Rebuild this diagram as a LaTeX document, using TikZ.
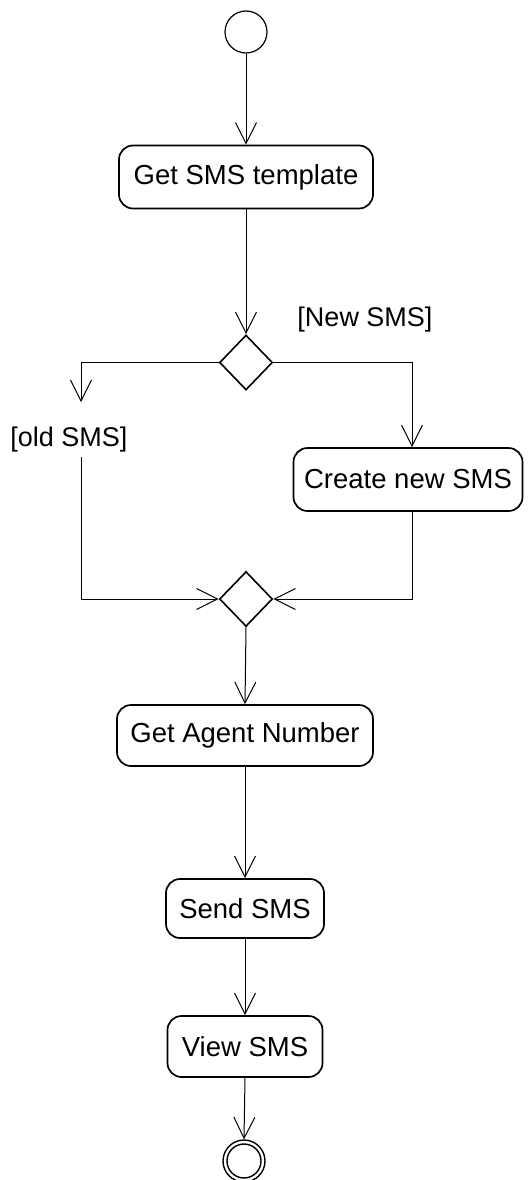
\documentclass[tikz,border=0pt]{standalone}
\usepackage{fontspec}
\setmainfont{Liberation Sans}
\usetikzlibrary{arrows.meta,shapes.geometric}
\tikzset{
  act/.style={draw, line width=1.7pt, rounded corners=14pt, inner sep=0pt,
    font=\fontsize{27.5}{32}\selectfont},
  decision/.style={draw, diamond, line width=1.6pt, inner sep=0pt,
    minimum width=53pt, minimum height=55pt},
  guard/.style={inner sep=0pt, font=\fontsize{27}{32}\selectfont},
  flow/.style={line width=1pt, -{Straight Barb[length=21pt,width=21pt,line width=1pt]}},
  state/.style={draw, circle, line width=1.2pt, inner sep=0pt},
}
\begin{document}
\begin{tikzpicture}[x=1pt, y=-1pt]
  \useasboundingbox (0,0) rectangle (530,1180);

  % initial and final states
  \node[state, minimum size=42pt] (start) at (246,32) {};
  \node[state, line width=1.4pt, minimum size=42pt] (end) at (244,1161) {};
  \node[state, line width=1.4pt, minimum size=34pt] (endin) at (244,1161) {};

  % activities
  \node[act, minimum width=254pt, minimum height=63pt] (tmpl) at (246,177) {Get SMS template};
  \node[act, minimum width=229pt, minimum height=63pt] (create) at (408,479.5) {Create new SMS};
  \node[act, minimum width=256pt, minimum height=61pt] (agent) at (245,735.5) {Get Agent Number};
  \node[act, minimum width=158pt, minimum height=59pt] (send) at (245,908.5) {Send SMS};
  \node[act, minimum width=155pt, minimum height=61pt] (view) at (245,1046.5) {View SMS};

  % branch and merge
  \node[decision] (d1) at (246,362.5) {};
  \node[decision] (d2) at (246,599) {};

  % guards
  \node[guard] (gnew) at (365,320) {[New SMS]};
  \node[guard] (gold) at (69,440) {[old SMS]};

  \coordinate (oldtip) at (81,402);
  \coordinate (oldstart) at (81,457);

  % transitions
  \draw[flow] (start.south) -- (tmpl.north);
  \draw[flow] (tmpl.south) -- (d1.north);
  \draw[flow] (d1.east) -| ([xshift=4pt]create.north);
  \draw[flow] (d1.west) -| (oldtip);
  \draw[flow] (oldstart) |- (d2.west);
  \draw[flow] ([xshift=4pt]create.south) |- (d2.east);
  \draw[flow] (d2.south) -- (agent.north);
  \draw[flow] (agent.south) -- (send.north);
  \draw[flow] (send.south) -- (view.north);
  \draw[flow] (view.south) -- (end.north);
\end{tikzpicture}
\end{document}
